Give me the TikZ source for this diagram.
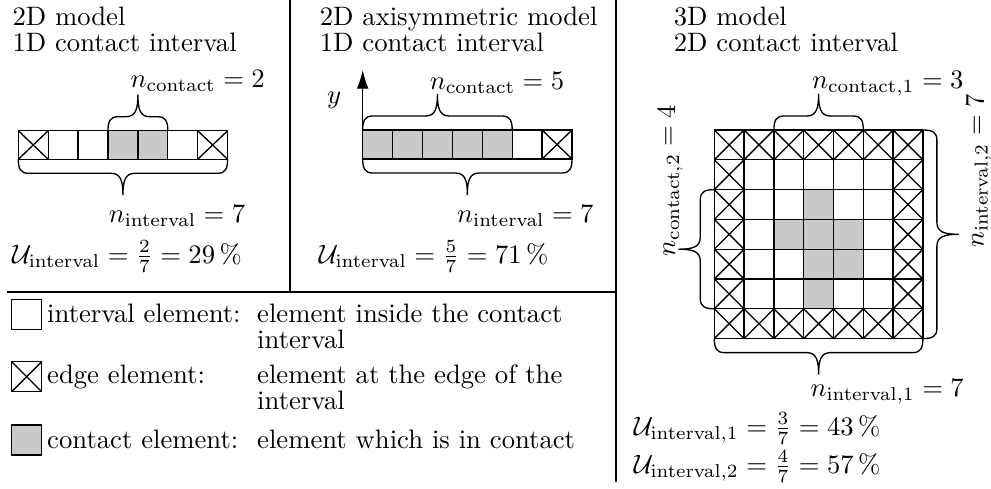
\documentclass[tikz,border=0pt]{standalone}
\usetikzlibrary{arrows.meta}
\definecolor{cgray}{RGB}{200,201,200}
\tikzset{
  divider/.style={line width=0.8pt},
  cell/.style={line width=0.5pt},
  brc/.style={line width=0.5pt},
  txt/.style={inner sep=0pt, anchor=base west, font=\fontsize{10}{12}\selectfont},
  pics/bup/.style={code={
    \draw[brc] (0,0) .. controls (0,-9) and (2,-14) .. (10,-14)
      -- ({#1/2-12},-14) .. controls ({#1/2-2},-14) and ({#1/2},-22) .. ({#1/2},-36)
      .. controls ({#1/2},-22) and ({#1/2+2},-14) .. ({#1/2+12},-14)
      -- ({#1-10},-14) .. controls ({#1-2},-14) and (#1,-9) .. (#1,0);
  }},
}
\begin{document}
\begin{tikzpicture}[x=0.375pt,y=-0.375pt]
\useasboundingbox (0,0) rectangle (991,488);

% dividers
\coordinate (d1a) at (290,0);   \coordinate (d1b) at (290,291.7);
\coordinate (d2a) at (7,291.7); \coordinate (d2b) at (616,291.7);
\coordinate (d3a) at (616,0);   \coordinate (d3b) at (616,482);
\draw[divider] (d1a) -- (d1b);
\draw[divider] (d2a) -- (d2b);
\draw[divider] (d3a) -- (d3b);

% ---------- panel 1 ----------
\node[txt] (p1t1) at (12,25) {2D model};
\node[txt] (p1t2) at (12,51.5) {1D contact interval};
\fill[cgray] ({18.3+3*29.9},130.7) rectangle ++(59.8,28.6);
\draw[cell] (18.3,130.7) rectangle ({18.3+7*29.9},159.3);
\foreach \i in {1,...,6} \draw[cell] ({18.3+\i*29.9},130.7) -- ++(0,28.6);
\draw[cell] (18.3,130.7) -- ++(29.9,28.6) (18.3,159.3) -- ++(29.9,-28.6);
\draw[cell] ({18.3+6*29.9},130.7) -- ++(29.9,28.6) ({18.3+6*29.9},159.3) -- ++(29.9,-28.6);
\pic at ({18.3+3*29.9},130.7) {bup=59.8};
\pic[rotate=180] at ({18.3+7*29.9},159.3) {bup=209.3};
\node[txt] (p1nc) at (130,87.3) {$n_\mathrm{contact} = 2$};
\node[txt] (p1ni) at (108.3,222.7) {$n_\mathrm{interval} = 7$};
\node[txt] (p1u) at (11.7,263.3) {$\mathcal{U}_\mathrm{interval} = \frac{2}{7} = 29\,\%$};

% ---------- panel 2 ----------
\node[txt] (p2t1) at (319.3,25) {2D axisymmetric model};
\node[txt] (p2t2) at (319.3,51.5) {1D contact interval};
\fill[cgray] (362.7,130) rectangle ++({5*29.9},29);
\draw[cell] (362.7,130) rectangle ({362.7+7*29.9},159);
\foreach \i in {1,...,6} \draw[cell] ({362.7+\i*29.9},130) -- ++(0,29);
\draw[cell] ({362.7+6*29.9},130) -- ++(29.9,29) ({362.7+6*29.9},159) -- ++(29.9,-29);
\coordinate (ax0) at (362.7,159);
\coordinate (ax1) at (362.7,70);
\draw[cell,-{Latex[length=7pt,width=4.4pt]}] (ax0) -- (ax1);
\node[txt] (ylab) at (326.7,103) {$y$};
\pic at (362.7,130) {bup=149.5};
\pic[rotate=180] at ({362.7+7*29.9},159) {bup=209.3};
\node[txt] (p2nc) at (429.3,89.3) {$n_\mathrm{contact} = 5$};
\node[txt] (p2ni) at (456.7,222.7) {$n_\mathrm{interval} = 7$};
\node[txt] (p2u) at (318.3,263.3) {$\mathcal{U}_\mathrm{interval} = \frac{5}{7} = 71\,\%$};

% ---------- panel 3 ----------
\node[txt] (p3t1) at (673.3,25) {3D model};
\node[txt] (p3t2) at (673.3,51.5) {2D contact interval};
\def\gx{714.3}\def\gy{130}\def\cs{29.8}
\foreach \c/\r in {3/2, 2/3, 3/3, 4/3, 3/4, 4/4, 3/5}
  \fill[cgray] ({\gx+\c*\cs},{\gy+\r*\cs}) rectangle ++(\cs,\cs);
\foreach \i in {0,...,7} {
  \draw[cell] ({\gx+\i*\cs},\gy) -- ++(0,{7*\cs});
  \draw[cell] (\gx,{\gy+\i*\cs}) -- ++({7*\cs},0);
}
\foreach \c in {0,...,6} {
  \draw[cell] ({\gx+\c*\cs},\gy) -- ++(\cs,\cs) ({\gx+\c*\cs},{\gy+\cs}) -- ++(\cs,-\cs);
  \draw[cell] ({\gx+\c*\cs},{\gy+6*\cs}) -- ++(\cs,\cs) ({\gx+\c*\cs},{\gy+7*\cs}) -- ++(\cs,-\cs);
}
\foreach \r in {1,...,5} {
  \draw[cell] (\gx,{\gy+\r*\cs}) -- ++(\cs,\cs) (\gx,{\gy+(\r+1)*\cs}) -- ++(\cs,-\cs);
  \draw[cell] ({\gx+6*\cs},{\gy+\r*\cs}) -- ++(\cs,\cs) ({\gx+6*\cs},{\gy+(\r+1)*\cs}) -- ++(\cs,-\cs);
}
\pic at ({\gx+2*\cs},\gy) {bup=89.4};
\pic[rotate=180] at ({\gx+7*\cs},{\gy+7*\cs}) {bup=208.6};
\pic[rotate=90] at (\gx,{\gy+6*\cs}) {bup=119.2};
\pic[rotate=-90] at ({\gx+7*\cs},\gy) {bup=208.6};
\node[txt] (p3nc1) at (811.7,88.3) {$n_{\mathrm{contact},1} = 3$};
\node[txt] (p3ni1) at (810,396.7) {$n_{\mathrm{interval},1} = 7$};
\node[txt,rotate=90] (p3nc2) at (675,256.7) {$n_{\mathrm{contact},2} = 4$};
\node[txt,rotate=90] (p3ni2) at (983.5,248) {$n_{\mathrm{interval},2} = 7$};
\node[txt] (p3u1) at (633.3,435) {$\mathcal{U}_{\mathrm{interval},1} = \frac{3}{7} = 43\,\%$};
\node[txt] (p3u2) at (633.3,473) {$\mathcal{U}_{\mathrm{interval},2} = \frac{4}{7} = 57\,\%$};

% ---------- legend ----------
\draw[cell] (11.7,299.3) rectangle ++(30,30);
\draw[cell] (11.7,361.7) rectangle ++(30,30);
\draw[cell] (11.7,361.7) -- ++(30,30) (11.7,391.7) -- ++(30,-30);
\filldraw[cell,fill=cgray] (11.7,425) rectangle ++(30,30);
\node[txt] (l1a) at (46.7,322.7) {interval element:};
\node[txt] (l1b) at (256.7,322.7) {element inside the contact};
\node[txt] (l1c) at (256.7,348.3) {interval};
\node[txt] (l2a) at (46.7,383.3) {edge element:};
\node[txt] (l2b) at (256.7,383.3) {element at the edge of the};
\node[txt] (l2c) at (256.7,409) {interval};
\node[txt] (l3a) at (46.7,448.3) {contact element:};
\node[txt] (l3b) at (256.7,448.3) {element which is in contact};
\end{tikzpicture}
\end{document}
